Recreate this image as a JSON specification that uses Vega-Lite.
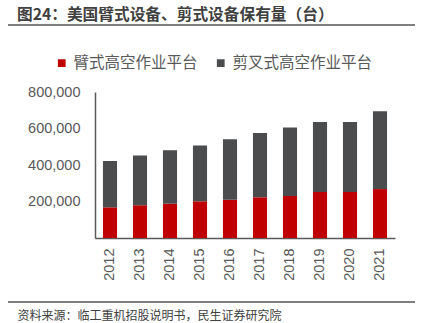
{
  "$schema": "https://vega.github.io/schema/vega-lite/v6.json",
  "width": 300,
  "height": 146,
  "autosize": "none",
  "padding": {"left": 95, "top": 92, "right": 26, "bottom": 85},
  "config": {"view": {"stroke": null}, "font": "Noto Sans CJK SC"},
  "title": {
    "text": "图24：美国臂式设备、剪式设备保有量（台）",
    "anchor": "start",
    "frame": "group",
    "dx": -78,
    "offset": 1,
    "fontSize": 15.7,
    "fontWeight": "bold",
    "color": "#404040",
    "font": "Noto Sans CJK SC"
  },
  "resolve": {"scale": {"x": "independent", "y": "independent", "color": "independent"}},
  "layer": [
    {
      "data": {"values": [
        {"year": "2012", "type": "臂式高空作业平台", "value": 168000},
        {"year": "2012", "type": "剪叉式高空作业平台", "value": 254000},
        {"year": "2013", "type": "臂式高空作业平台", "value": 179000},
        {"year": "2013", "type": "剪叉式高空作业平台", "value": 273000},
        {"year": "2014", "type": "臂式高空作业平台", "value": 188000},
        {"year": "2014", "type": "剪叉式高空作业平台", "value": 293000},
        {"year": "2015", "type": "臂式高空作业平台", "value": 201000},
        {"year": "2015", "type": "剪叉式高空作业平台", "value": 306000},
        {"year": "2016", "type": "臂式高空作业平台", "value": 210000},
        {"year": "2016", "type": "剪叉式高空作业平台", "value": 331000},
        {"year": "2017", "type": "臂式高空作业平台", "value": 223000},
        {"year": "2017", "type": "剪叉式高空作业平台", "value": 353000},
        {"year": "2018", "type": "臂式高空作业平台", "value": 230000},
        {"year": "2018", "type": "剪叉式高空作业平台", "value": 376000},
        {"year": "2019", "type": "臂式高空作业平台", "value": 252000},
        {"year": "2019", "type": "剪叉式高空作业平台", "value": 383000},
        {"year": "2020", "type": "臂式高空作业平台", "value": 252000},
        {"year": "2020", "type": "剪叉式高空作业平台", "value": 383000},
        {"year": "2021", "type": "臂式高空作业平台", "value": 268000},
        {"year": "2021", "type": "剪叉式高空作业平台", "value": 427000}
      ]},
      "mark": {"type": "bar"},
      "encoding": {
        "x": {
          "field": "year", "type": "nominal",
          "scale": {"paddingInner": 0.53, "paddingOuter": 0.265},
          "axis": {
            "title": "资料来源：临工重机招股说明书，民生证券研究院",
            "titleAnchor": "start",
            "titleX": -78,
            "titleY": 77,
            "titleBaseline": "middle",
            "titleFontSize": 12,
            "titleFontWeight": "normal",
            "titleColor": "#404040",
            "titleFont": "Noto Sans CJK SC",
            "labelAngle": -90,
            "labelFontSize": 14.5,
            "labelColor": "#595959",
            "labelFont": "Liberation Sans",
            "labelPadding": 10,
            "ticks": false,
            "domainColor": "#595959",
            "domainWidth": 1.5
          }
        },
        "y": {
          "field": "value", "type": "quantitative",
          "stack": "zero",
          "scale": {"domain": [0, 800000], "nice": false},
          "axis": {
            "values": [200000, 400000, 600000, 800000],
            "format": ",.0f",
            "title": null,
            "grid": false,
            "ticks": false,
            "labelFontSize": 14.5,
            "labelColor": "#595959",
            "labelFont": "Liberation Sans",
            "labelPadding": 15,
            "domainColor": "#595959",
            "domainWidth": 1.5
          }
        },
        "color": {
          "field": "type", "type": "nominal",
          "scale": {"domain": ["臂式高空作业平台", "剪叉式高空作业平台"], "range": ["#C00000", "#4B4C4E"]},
          "legend": {
            "title": null,
            "orient": "none",
            "direction": "horizontal",
            "legendX": -41,
            "legendY": -37,
            "symbolType": "square",
            "symbolSize": 60,
            "symbolStrokeWidth": 0,
            "labelFontSize": 15.5,
            "labelColor": "#595959",
            "labelFont": "Noto Sans CJK SC",
            "labelOffset": 4,
            "columnPadding": 15
          }
        },
        "order": {"field": "type", "sort": "descending"}
      }
    },
    {
      "data": {"values": [{"line": "top"}, {"line": "bottom"}]},
      "mark": {"type": "rule", "color": "#555555", "strokeWidth": 1.5, "clip": false},
      "encoding": {
        "y": {"field": "line", "type": "nominal", "scale": {"type": "point", "domain": ["top", "bottom"], "range": [-67, 210], "padding": 0}, "axis": null},
        "x": {"datum": 0, "type": "quantitative", "scale": {"domain": [0, 1], "range": [-87, 320]}, "axis": null},
        "x2": {"datum": 1}
      }
    }
  ]
}
